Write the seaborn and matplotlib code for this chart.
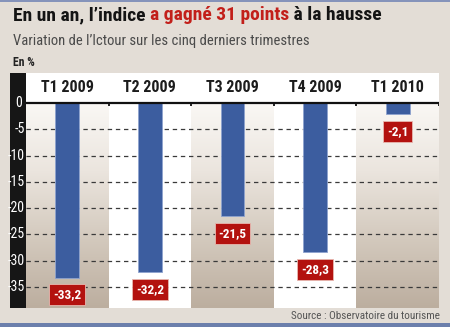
import numpy as np
import pandas as pd
import matplotlib
matplotlib.use("Agg")
import matplotlib.pyplot as plt
import seaborn as sns
from matplotlib.patches import Rectangle

# Data
quarters = ["T1 2009", "T2 2009", "T3 2009", "T4 2009", "T1 2010"]
variation = [-33.2, -32.2, -21.5, -28.3, -2.1]
value_labels = ["-33,2", "-32,2", "-21,5", "-28,3", "-2,1"]
y_ticks = [0, -5, -10, -15, -20, -25, -30, -35]

title_parts = [("En un an, l\u2019indice ", "#141414"),
               ("a gagné 31 points", "#c21f1a"),
               (" à la hausse", "#141414")]
subtitle = "Variation de l\u2019Ictour sur les cinq derniers trimestres"
unit_label = "En %"
source = "Source : Observatoire du tourisme"

sns.set_theme(style="white")
plt.rcParams["font.family"] = ["Roboto Condensed", "DejaVu Sans"]

BG = "#e3ddd6"
BAR = "#3c5d9f"
RED = "#b3120f"

W, H = 450, 327
fig = plt.figure(figsize=(W / 100, H / 100), dpi=100, facecolor=BG)

def fx(px):
    return px / W

def fy(py):
    return 1 - py / H

# top and bottom rules
fig.add_artist(Rectangle((0, fy(2)), 1, 2 / H, transform=fig.transFigure,
                         color="#8593ba", lw=0))
fig.add_artist(Rectangle((0, 0), 1, 4 / H, transform=fig.transFigure,
                         color="#6c7fac", lw=0))

# plot area
left, right, top, bottom = 26, 439, 73, 308
ax = fig.add_axes([fx(left), fy(bottom), fx(right - left), (bottom - top) / H])
ymin, ymax = -39.0, 5.7
ax.set_xlim(-0.5, 4.5)
ax.set_ylim(ymin, ymax)
ax.set_facecolor("white")

# alternating shaded columns
grad = np.linspace(0, 1, 256).reshape(-1, 1)
cmap = matplotlib.colors.LinearSegmentedColormap.from_list(
    "col", ["#faf8f5", "#ebe5de", "#d3c9bd", "#bcae9f"])
for i in (0, 2, 4):
    ax.imshow(grad, extent=(i - 0.5, i + 0.5, ymin, 0), aspect="auto",
              cmap=cmap, origin="upper", zorder=0)

# dashed grid
for t in y_ticks[1:]:
    ax.axhline(t, color="#3a3a3a", lw=0.9, ls=(0, (3.5, 3)), zorder=1)

df = pd.DataFrame({"trimestre": quarters, "variation": variation})
sns.barplot(data=df, x="trimestre", y="variation", order=quarters,
            color=BAR, width=0.29, saturation=1, ax=ax, zorder=3,
            edgecolor="#8ea3cf", linewidth=0.6)

# zero line with boundary ticks
ax.axhline(0, color="#111111", lw=1.6, zorder=4)
for b in np.arange(0.5, 5.0, 1.0):
    ax.plot([b, b], [0, -0.55], color="#111111", lw=1.3, zorder=4,
            solid_capstyle="butt")

# category labels in the header band
for i, q in enumerate(quarters):
    ax.text(i, 2.9, q, ha="center", va="center", fontsize=11.5,
            fontweight="bold", color="#1c1c1c", zorder=5)

# value labels under the bars
for i, (v, lab) in enumerate(zip(variation, value_labels)):
    ax.text(i, v - 3.3, lab, ha="center", va="center", fontsize=9.5,
            fontweight="bold", color="white", zorder=6,
            bbox=dict(boxstyle="square,pad=0.3", fc=RED, ec="#e8b8b0", lw=0.6))

ax.set_xlabel("")
ax.set_ylabel("")
ax.set_xticks([])
ax.set_yticks([])
for s in ax.spines.values():
    s.set_visible(False)

# black tick strip on the left
sx = fig.add_axes([fx(10), fy(bottom), fx(left - 10), (bottom - top) / H])
sx.set_facecolor("#161616")
sx.set_xlim(0, 1)
sx.set_ylim(ymin, ymax)
sx.set_xticks([])
sx.set_yticks([])
for s in sx.spines.values():
    s.set_visible(False)
for t in y_ticks:
    sx.text(0.75 if t == 0 else 0.92, t, str(t), ha="right", va="center",
            fontsize=10, color="white", clip_on=False)

# header texts
renderer = fig.canvas.get_renderer()
x0 = fx(13)
for txt, col in title_parts:
    t = fig.text(x0, fy(15), txt, fontsize=14, fontweight="bold", color=col,
                 ha="left", va="center")
    bb = t.get_window_extent(renderer=renderer)
    x0 = bb.x1 / W
fig.text(fx(13), fy(41), subtitle, fontsize=10.5, color="#4a4a4a",
         ha="left", va="center")
fig.text(fx(13), fy(62), unit_label, fontsize=8.5, fontweight="bold",
         color="#222222", ha="left", va="center")
fig.text(fx(440), fy(316), source, fontsize=8, color="#555555",
         ha="right", va="center")

fig.savefig("out.png", dpi=100, facecolor=BG)
